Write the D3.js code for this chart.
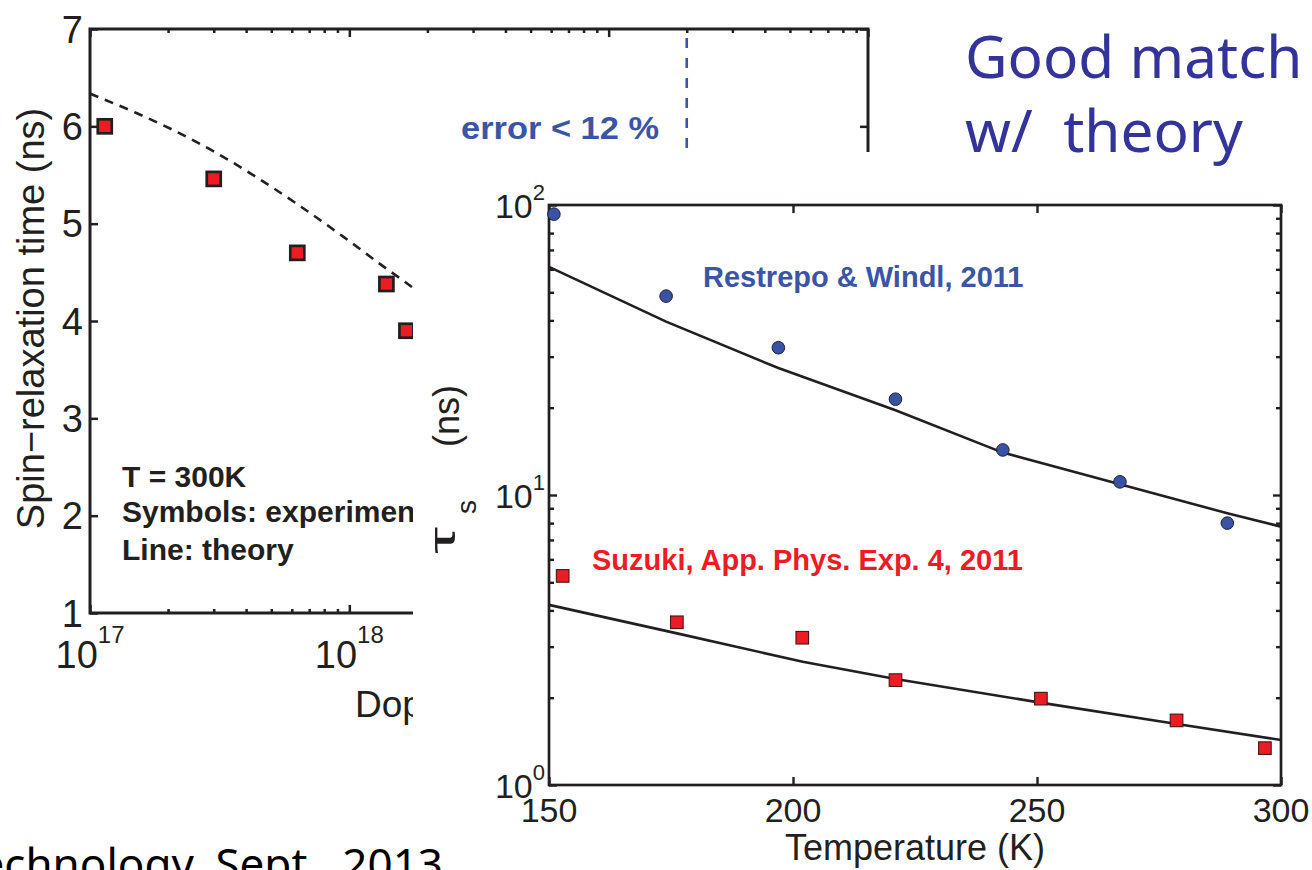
<!DOCTYPE html>
<html>
<head>
<meta charset="utf-8">
<script src="https://cdn.jsdelivr.net/npm/d3@7"></script>
<style>
  html, body { margin: 0; padding: 0; background: #fff; }
  svg { display: block; }
  text { font-family: "Liberation Sans", Arial, Helvetica, sans-serif; }
  text.slide { font-family: "Noto Sans", "Open Sans", sans-serif; white-space: pre; }
</style>
</head>
<body>
<svg id="fig" width="1312" height="870"></svg>
<script>
// ---------- data: spin relaxation vs doping, T = 300 K ----------
const dopingExp      = [1.14e17, 3.0e17, 6.3e17, 1.39e18, 1.66e18];
const tauDopingExp   = [6.00, 5.46, 4.70, 4.38, 3.90];
const dopingTheory   = [1e17, 1.51e17, 2.1e17, 3.0e17, 4.4e17, 6.27e17, 9.5e17, 1.39e18, 1.62e18, 2.0e18];
const tauDopingTheory= [6.335, 6.137, 5.96, 5.742, 5.475, 5.204, 4.864, 4.538, 4.412, 4.226];
const leftYTicks     = [1, 2, 3, 4, 5, 6, 7];
const leftXExponents = [17, 18, 19, 20];
const errorLineDoping = 2e19;

// ---------- data: spin relaxation vs temperature ----------
const tempRestrepo      = [151, 174, 197, 221, 243, 267, 289];
const tauRestrepo       = [93, 48.5, 32.2, 21.4, 14.3, 11.1, 8.0];
const tempTheoryA       = [150, 174, 197, 221, 243, 267, 289, 300];
const tauTheoryA        = [61.2, 39.6, 27.4, 19.6, 14.0, 10.9, 8.65, 7.78];
const tempSuzuki        = [152.8, 176.2, 201.9, 221, 250.8, 278.6, 296.7];
const tauSuzuki         = [5.26, 3.64, 3.22, 2.30, 1.985, 1.67, 1.34];
const tempTheoryB       = [150, 176, 202, 221, 251, 279, 300];
const tauTheoryB        = [4.18, 3.34, 2.66, 2.32, 1.92, 1.62, 1.43];
const rightXTicks       = [150, 200, 250, 300];
const rightYExponents   = [0, 1, 2];

const INK = "#231f20";
const BLUE = "#3a55a5";
const RED = "#ed1c24";

const svg = d3.select("#fig");
svg.append("rect").attr("width", 1312).attr("height", 870).attr("fill", "#fff");

function tidy(g, w) {
  g.select(".domain").remove();
  g.selectAll(".tick line").attr("stroke", INK).attr("stroke-width", w);
}

// ================= left panel =================
const L = { x0: 90, x1: 868, y0: 29, y1: 613 };
const xL = d3.scaleLog().domain([1e17, 1e20]).range([L.x0, L.x1]);
const yL = d3.scaleLinear().domain([1, 7]).range([L.y1, L.y0]);
const gL = svg.append("g");

const majorL = leftXExponents.map(e => Math.pow(10, e));
const minorL = [];
for (let e = 17; e < 20; e++) for (let m = 2; m <= 9; m++) minorL.push(m * Math.pow(10, e));

gL.append("g").attr("transform", `translate(0,${L.y1})`)
  .call(d3.axisBottom(xL).tickValues(majorL).tickSize(-8).tickFormat("")).call(tidy, 2.5);
gL.append("g").attr("transform", `translate(0,${L.y1})`)
  .call(d3.axisBottom(xL).tickValues(minorL).tickSize(-4).tickFormat("")).call(tidy, 2.5);
gL.append("g").attr("transform", `translate(0,${L.y0})`)
  .call(d3.axisTop(xL).tickValues(majorL).tickSize(-8).tickFormat("")).call(tidy, 2.5);
gL.append("g").attr("transform", `translate(0,${L.y0})`)
  .call(d3.axisTop(xL).tickValues(minorL).tickSize(-4).tickFormat("")).call(tidy, 2.5);
gL.append("g").attr("transform", `translate(${L.x0},0)`)
  .call(d3.axisLeft(yL).tickValues(leftYTicks).tickSize(-8).tickFormat("")).call(tidy, 2.5);
gL.append("g").attr("transform", `translate(${L.x1},0)`)
  .call(d3.axisRight(yL).tickValues(leftYTicks).tickSize(-8).tickFormat("")).call(tidy, 2.5);

gL.append("rect").attr("x", L.x0).attr("y", L.y0)
  .attr("width", L.x1 - L.x0).attr("height", L.y1 - L.y0)
  .attr("fill", "none").attr("stroke", INK).attr("stroke-width", 3);

// y tick labels
gL.selectAll(".ylab").data(leftYTicks).join("text")
  .attr("x", 83).attr("y", d => yL(d) + 13.5)
  .attr("text-anchor", "end").attr("font-size", 38).attr("fill", INK)
  .text(d => d);

// x tick labels as powers of ten
const xlab = gL.selectAll(".xlab").data(leftXExponents).join("text")
  .attr("x", d => xL(Math.pow(10, d))).attr("y", L.y1 + 55)
  .attr("text-anchor", "middle").attr("fill", INK);
xlab.append("tspan").attr("font-size", 38).text("10");
xlab.append("tspan").attr("font-size", 24).attr("dy", -25).text(d => d);

// axis titles
gL.append("text")
  .attr("transform", `translate(44,${318.5}) rotate(-90)`)
  .attr("text-anchor", "middle").attr("font-size", 38).attr("fill", INK)
  .text("Spin\u2212relaxation time (ns)");
gL.append("text").attr("x", 355).attr("y", 717)
  .attr("font-size", 37).attr("fill", INK)
  .text("Doping (cm\u207B\u00B3)");

// theory (dashed)
const lineL = d3.line().curve(d3.curveMonotoneX).x(d => xL(d[0])).y(d => yL(d[1]));
gL.append("path")
  .datum(dopingTheory.map((d, i) => [d, tauDopingTheory[i]]))
  .attr("d", lineL).attr("fill", "none").attr("stroke", INK)
  .attr("stroke-width", 2.6).attr("stroke-dasharray", "9,7");

// experiment (squares)
gL.selectAll(".sq").data(dopingExp.map((d, i) => [d, tauDopingExp[i]])).join("rect")
  .attr("x", d => xL(d[0]) - 7).attr("y", d => yL(d[1]) - 7)
  .attr("width", 14).attr("height", 14)
  .attr("fill", RED).attr("stroke", INK).attr("stroke-width", 2.7);

// annotations
const note = gL.append("text").attr("font-size", 30).attr("font-weight", "bold").attr("fill", INK);
note.append("tspan").attr("x", 122).attr("y", 487).text("T = 300K");
note.append("tspan").attr("x", 122).attr("y", 522).text("Symbols: experiment");
note.append("tspan").attr("x", 122).attr("y", 560).text("Line: theory");

gL.append("line")
  .attr("x1", xL(errorLineDoping)).attr("x2", xL(errorLineDoping))
  .attr("y1", 38).attr("y2", 175)
  .attr("stroke", BLUE).attr("stroke-width", 2.6).attr("stroke-dasharray", "10,10");
gL.append("text").attr("x", 461).attr("y", 139)
  .attr("font-size", 31).attr("font-weight", "bold").attr("fill", BLUE)
  .attr("textLength", 198).attr("lengthAdjust", "spacingAndGlyphs")
  .text("error < 12 %");

// ================= right panel (sits over the left one) =================
svg.append("rect").attr("x", 413).attr("y", 152).attr("width", 899).attr("height", 718).attr("fill", "#fff");

const R = { x0: 549, x1: 1281, y0: 205, y1: 785 };
const xR = d3.scaleLinear().domain([150, 300]).range([R.x0, R.x1]);
const yR = d3.scaleLog().domain([1, 100]).range([R.y1, R.y0]);
const gR = svg.append("g");

const majorR = rightYExponents.map(e => Math.pow(10, e));
const minorR = [];
for (let e = 0; e < 2; e++) for (let m = 2; m <= 9; m++) minorR.push(m * Math.pow(10, e));

gR.append("g").attr("transform", `translate(0,${R.y1})`)
  .call(d3.axisBottom(xR).tickValues(rightXTicks).tickSize(-8).tickFormat("")).call(tidy, 2.4);
gR.append("g").attr("transform", `translate(0,${R.y0})`)
  .call(d3.axisTop(xR).tickValues(rightXTicks).tickSize(-8).tickFormat("")).call(tidy, 2.4);
[[R.x0, d3.axisLeft], [R.x1, d3.axisRight]].forEach(([x, ax]) => {
  gR.append("g").attr("transform", `translate(${x},0)`)
    .call(ax(yR).tickValues(majorR).tickSize(-8).tickFormat("")).call(tidy, 2.4);
  gR.append("g").attr("transform", `translate(${x},0)`)
    .call(ax(yR).tickValues(minorR).tickSize(-5).tickFormat("")).call(tidy, 2.4);
});
gR.append("rect").attr("x", R.x0).attr("y", R.y0)
  .attr("width", R.x1 - R.x0).attr("height", R.y1 - R.y0)
  .attr("fill", "none").attr("stroke", INK).attr("stroke-width", 2.7);

gR.selectAll(".xlab").data(rightXTicks).join("text")
  .attr("x", d => xR(d)).attr("y", R.y1 + 37)
  .attr("text-anchor", "middle").attr("font-size", 34).attr("fill", INK)
  .text(d => d);
const ylabR = gR.selectAll(".ylab").data(rightYExponents).join("text")
  .attr("x", 545).attr("y", d => yR(Math.pow(10, d)) + 13)
  .attr("text-anchor", "end").attr("fill", INK);
ylabR.append("tspan").attr("font-size", 34).text("10");
ylabR.append("tspan").attr("font-size", 22).attr("dy", -18).text(d => d);

gR.append("text").attr("x", (R.x0 + R.x1) / 2).attr("y", 860)
  .attr("text-anchor", "middle").attr("font-size", 36).attr("fill", INK)
  .text("Temperature (K)");

// rotated y title: tau with subscript s, then units
gR.append("text").attr("transform", "rotate(-90)")
  .attr("x", -554).attr("y", 455).attr("font-size", 36).attr("fill", INK)
  .attr("textLength", 27).attr("lengthAdjust", "spacingAndGlyphs")
  .text("\u03C4");
const tauLab = gR.append("text").attr("transform", "rotate(-90)")
  .attr("text-anchor", "middle").attr("fill", INK);
tauLab.append("tspan").attr("x", -507).attr("y", 476).attr("font-size", 28).text("s");
tauLab.append("tspan").attr("x", -416).attr("y", 459).attr("font-size", 36).text("(ns)");

const lineR = d3.line().x(d => xR(d[0])).y(d => yR(d[1]));
gR.append("path").datum(tempTheoryA.map((d, i) => [d, tauTheoryA[i]]))
  .attr("d", lineR).attr("fill", "none").attr("stroke", INK).attr("stroke-width", 2.6);
gR.append("path").datum(tempTheoryB.map((d, i) => [d, tauTheoryB[i]]))
  .attr("d", lineR).attr("fill", "none").attr("stroke", INK).attr("stroke-width", 2.6);

gR.selectAll(".dot").data(tempRestrepo.map((d, i) => [d, tauRestrepo[i]])).join("circle")
  .attr("cx", d => xR(d[0])).attr("cy", d => yR(d[1])).attr("r", 6.3)
  .attr("fill", "#3953a4").attr("stroke", "#1c1f3a").attr("stroke-width", 1);
gR.selectAll(".sq").data(tempSuzuki.map((d, i) => [d, tauSuzuki[i]])).join("rect")
  .attr("x", d => xR(d[0]) - 6.3).attr("y", d => yR(d[1]) - 6.3)
  .attr("width", 12.6).attr("height", 12.6)
  .attr("fill", RED).attr("stroke", "#4a1416").attr("stroke-width", 1.1);

gR.append("text").attr("x", 703).attr("y", 287)
  .attr("font-size", 29).attr("font-weight", "bold").attr("fill", BLUE)
  .text("Restrepo & Windl, 2011");
gR.append("text").attr("x", 592).attr("y", 570)
  .attr("font-size", 29).attr("font-weight", "bold").attr("fill", RED)
  .text("Suzuki, App. Phys. Exp. 4, 2011");

// ================= slide text =================
const head = svg.append("text").attr("class", "slide")
  .attr("font-size", 58.5).attr("fill", "#333399");
head.append("tspan").attr("x", 965).attr("y", 78).text("Good match");
head.append("tspan").attr("x", 965).attr("y", 152).text("w/  theory");

svg.append("text").attr("class", "slide").attr("x", 443).attr("y", 880)
  .attr("text-anchor", "end")
  .attr("font-size", 44).attr("fill", "#000")
  .text("Technology, Sept., 2013");
</script>
</body>
</html>
